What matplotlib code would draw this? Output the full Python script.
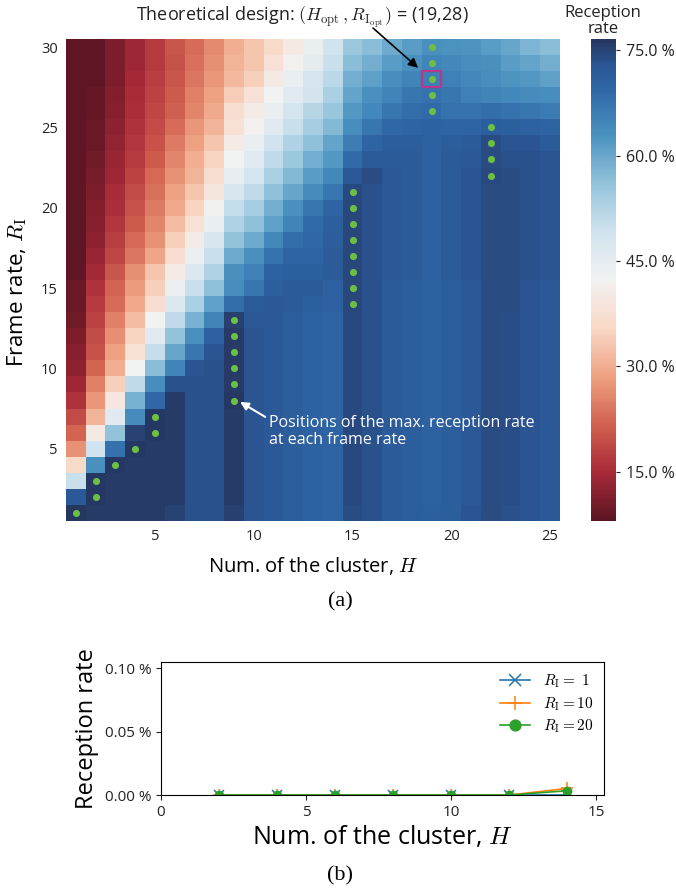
import numpy as np
import matplotlib
matplotlib.use("Agg")
import matplotlib.pyplot as plt
from matplotlib.patches import Rectangle
from matplotlib.ticker import FuncFormatter
from matplotlib.colors import LinearSegmentedColormap

plt.rcParams['mathtext.fontset'] = 'cm'
plt.rcParams['font.family'] = ['Open Sans', 'DejaVu Sans']

# ---------------- data (a) ----------------
H_values = list(range(1, 26))          # Num. of the cluster
R_values = list(range(1, 31))          # Frame rate

# reception rate [%], rows listed from R=30 (top) down to R=1 (bottom)
rate_top_down = [
 [8.5, 8.5, 11, 14, 17, 20.5, 23, 26, 30, 33, 36, 40, 44, 49, 55, 57, 59.5, 61.5, 63, 62.8, 62.5, 61.5, 60, 58, 57],        # 30
 [8.5, 8.5, 11, 14, 17, 20, 23.5, 26.5, 31, 33, 38, 42, 45, 50, 57, 59, 61.5, 63, 65, 64.5, 63.5, 63, 61.5, 60.5, 59],      # 29
 [8.5, 8.5, 11, 14.5, 17.5, 20.5, 24, 27.5, 31.5, 34.5, 40, 44, 48, 51.5, 59, 61, 63.5, 65, 65.8, 65.5, 64.5, 63.5, 62.5, 62, 61],  # 28
 [8.5, 9, 11.5, 15, 18, 21, 25, 28.5, 34, 38, 42.5, 46, 48.5, 53.5, 60.5, 63, 65, 67, 67.5, 67, 65.5, 65, 64.5, 64, 63.5],  # 27
 [8.5, 9, 12, 15.5, 18.5, 21.5, 25.5, 29.5, 37, 40.5, 44, 48, 52, 55.5, 62, 64.5, 67, 68.5, 69, 67.5, 67.5, 68.5, 67.5, 67, 66.5],  # 26
 [8.5, 9.5, 12.5, 16, 19, 23, 27.5, 31, 38, 42, 46, 50, 54, 57.5, 63.5, 67, 69.5, 70, 70.5, 70, 70, 71.5, 71, 70.5, 70],   # 25
 [8.5, 9.5, 13, 16.5, 20, 24.5, 28.5, 33, 40.5, 44, 49, 53, 56.5, 60.5, 66, 70, 71.5, 71.5, 70.5, 71.5, 72, 74, 73, 73, 72],  # 24
 [8.5, 10, 13.5, 17, 21, 25.5, 30, 35, 42.5, 46, 51, 55, 59, 62, 69, 72, 72, 72, 70.5, 72, 72.5, 74, 73.5, 73.5, 73],       # 23
 [8.5, 10.5, 14, 18, 22.5, 27, 31, 37, 44.5, 48, 53.5, 57.5, 61.5, 64.5, 72.5, 74, 72.5, 72, 70.5, 72, 73, 74.2, 74, 73.5, 73],  # 22
 [8.5, 11, 15, 19, 23.5, 28.5, 33, 39, 47.5, 51, 56.5, 60, 64, 67, 74.2, 73.5, 72.5, 72, 70.5, 72, 73, 74, 74, 73.5, 73],   # 21
 [8.5, 11.5, 15.5, 20, 24.5, 29.5, 35, 42, 50.5, 54, 59, 63, 67, 70, 74.5, 73.5, 72.5, 72, 70.5, 72, 73, 74, 74, 73.5, 73],  # 20
 [8.5, 12, 16.5, 21, 25.5, 32, 37.5, 44, 53, 56.5, 61, 65, 69, 71, 74.5, 73.5, 72.5, 72, 70.5, 72, 73, 74, 74, 73.5, 73],    # 19
 [8.5, 12.5, 17.5, 22.5, 27, 34.5, 40.5, 47.5, 56, 59.5, 64.5, 68.5, 69.5, 71.5, 74.5, 73.5, 72.5, 72, 70.5, 72, 73, 74, 74, 73.5, 73],  # 18
 [8.5, 13.5, 18.5, 24, 29, 37, 43.5, 50, 59.5, 63, 67.5, 70, 70, 72, 74.5, 73.5, 72.5, 72, 70.5, 72, 73, 74, 74, 73.5, 73],  # 17
 [8.5, 14.5, 20.5, 26.5, 33, 40.5, 47, 53, 63, 65.5, 70.5, 71, 71, 72, 74.5, 73.5, 72.5, 72, 70.5, 72, 73, 74, 74, 73.5, 73],  # 16
 [9.5, 16, 22, 28, 34.5, 43.5, 50, 56.5, 63.5, 67, 71, 72, 72, 70.5, 74.5, 73.5, 72, 71.5, 70.5, 71.5, 72.5, 74, 74, 73, 72.5],  # 15
 [9.5, 17, 23, 29.5, 37, 47, 53.5, 61, 68.5, 72, 72.5, 72, 71, 70.5, 74.5, 73.5, 72, 71.5, 70.5, 71.5, 72.5, 74, 74, 73, 72.5],  # 14
 [10, 18, 25, 32, 42.5, 51, 58.5, 65, 75.5, 72.5, 72.5, 71.5, 70.5, 70, 74.3, 73.5, 72, 71.5, 70.5, 71.5, 72.5, 74, 73.8, 73, 72.5],  # 13
 [11, 19, 26.5, 35, 46, 56, 63, 70.5, 76, 73, 72.5, 71.5, 70.5, 70, 74.3, 73.5, 72, 71.5, 70.5, 71.5, 72.5, 74, 73.8, 73, 72.5],  # 12
 [12, 20, 28.5, 38, 50.5, 60, 67, 73, 76, 73, 72.5, 71.5, 70.5, 70, 74.3, 73.5, 72, 71.5, 70.5, 71.5, 72.5, 74, 73.8, 73, 72.5],  # 11
 [12.5, 22, 30, 42.5, 57, 65, 73, 73.5, 76, 73, 72.5, 71.5, 70.5, 70, 74.3, 73.5, 72, 71.5, 70.5, 71.5, 72.5, 74, 73.8, 73, 72.5],  # 10
 [14, 25, 34.5, 51, 63.5, 73.5, 73.5, 73.5, 76, 73, 72.5, 71.5, 70.5, 70, 74.3, 73.5, 72, 71.5, 70.5, 71.5, 72.5, 74, 73.8, 73, 72.5],  # 9
 [16, 27.5, 39.5, 58.5, 69.5, 76, 73.5, 73.5, 76.2, 73, 72.5, 71.5, 70.5, 70, 74.3, 73.5, 72, 71.5, 70.5, 71.5, 72.5, 74, 73.8, 73, 72.5],  # 8
 [19, 31, 46, 64, 76.3, 76, 73.5, 73.5, 76, 73, 72.5, 71.5, 70.5, 70, 74.3, 73.5, 72, 71.5, 70.5, 71.5, 72.5, 74, 73.8, 73, 72.5],  # 7
 [22, 40, 56, 75, 76.3, 76, 73.5, 73.5, 76, 73, 72.5, 71.5, 70.5, 70, 74.3, 73.5, 72, 71.5, 70.5, 71.5, 72.5, 74, 73.8, 73, 72.5],  # 6
 [27, 49, 68, 76.3, 76, 76, 73.5, 73.5, 76, 73, 72.5, 71.5, 70.5, 70, 74.3, 73.5, 72, 71.5, 70.5, 71.5, 72.5, 74, 73.8, 73, 72.5],  # 5
 [36, 63, 76.3, 76, 76, 76, 73.5, 73.5, 76, 73, 72.5, 71.5, 70.5, 70, 74.3, 73.5, 72, 71.5, 70.5, 71.5, 72.5, 74, 73.8, 73, 72.5],  # 4
 [50, 76.3, 76, 76, 76, 76, 73.5, 73.5, 76, 73, 72.5, 71.5, 70.5, 70, 74.3, 73.5, 72, 71.5, 70.5, 71.5, 72.5, 74, 73.8, 73, 72.5],  # 3
 [72.5, 76.3, 76, 76, 76, 76, 73.5, 73.5, 76, 73, 72.5, 71.5, 70.5, 70, 74.3, 73.5, 72, 71.5, 70.5, 71.5, 72.5, 74, 73.8, 73, 72.5],  # 2
 [76.5, 76, 76, 76, 76, 75, 73.5, 73.5, 75.5, 73, 72.5, 71.5, 70.5, 70, 74, 73.5, 72, 71.5, 71, 71.5, 73, 74, 73.5, 73, 72.5],  # 1
]

# cluster number with the max. reception rate for each frame rate R=1..30
best_H = [1, 2, 2, 3, 4, 5, 5, 9, 9, 9, 9, 9, 9, 15, 15, 15, 15, 15, 15, 15, 15,
          22, 22, 22, 22, 19, 19, 19, 19, 19]
opt_H, opt_R = 19, 28

cbar_ticks = [15, 30, 45, 60, 75]
vmin, vmax = 8.0, 76.6

# ---------------- data (b) ----------------
H_b = [2, 4, 6, 8, 10, 12, 14]
rate_R1 = [0, 0, 0, 0, 0, 0, 0]
rate_R10 = [0, 0, 0, 0, 0, 0, 0.0052]
rate_R20 = [0, 0, 0, 0, 0, 0, 0.0034]

# muted red-blue palette as seen in the reference
cmap_pos = [0.0, 0.1, 0.2, 0.3, 0.4, 0.5, 0.6, 0.7, 0.8, 0.9, 0.95, 1.0]
cmap_colors = ['#5c1422', '#a82a38', '#d1614f', '#efa282', '#f9d8c6', '#f2f2f2',
               '#d0e3ee', '#94c4dc', '#4a92c0', '#2e66a6', '#2a5592', '#25365f']
cmap = LinearSegmentedColormap.from_list('muted_rdbu', list(zip(cmap_pos, cmap_colors)), N=256)

# ---------------- figure ----------------
fig = plt.figure(figsize=(6.76, 8.9), dpi=100)

ax = fig.add_axes([0.0976, 0.4146, 0.7308, 0.5416])
Z = np.array(rate_top_down[::-1])
xe = np.arange(len(H_values) + 1) + 0.5
ye = np.arange(len(R_values) + 1) + 0.5
mesh = ax.pcolormesh(xe, ye, Z, cmap=cmap, vmin=vmin, vmax=vmax)
ax.set_xlim(0.5, 25.5)
ax.set_ylim(0.5, 30.5)
for s in ax.spines.values():
    s.set_visible(False)
ax.set_xticks([5, 10, 15, 20, 25])
ax.set_yticks([5, 10, 15, 20, 25, 30])
ax.tick_params(length=0, labelsize=10.5, colors='#222222', pad=6)
ax.set_xlabel("Num. of the cluster, $H$", fontsize=14.5, labelpad=8)
ax.set_ylabel("Frame rate, $R_\\mathrm{I}$", fontsize=16)
ax.yaxis.set_label_coords(-0.075, 0.475)

ax.scatter(best_H, R_values, s=26, color='#6dbf43', zorder=3, linewidths=0)
ax.add_patch(Rectangle((opt_H - 0.5, opt_R - 0.5), 1, 1, fill=False,
                       edgecolor='#b5388a', lw=1.6, zorder=4))

ax.text(12.47, 31.87, "Theoretical design: $(H_\\mathrm{opt}\\,,R_{\\mathrm{I}_\\mathrm{opt}})$ = (19,28)",
        ha='center', va='center', fontsize=13, color='#222222', clip_on=False)
ax.annotate("", xy=(18.32, 28.7), xytext=(16.04, 31.18),
            arrowprops=dict(arrowstyle='-|>', color='black', lw=1.2,
                            mutation_scale=14, shrinkA=0, shrinkB=0),
            annotation_clip=False)

ax.text(10.78, 7.08, "Positions of the max. reception rate\nat each frame rate",
        ha='left', va='top', fontsize=11.5, color='white', linespacing=1.05)
ax.annotate("", xy=(9.31, 7.91), xytext=(10.58, 6.98),
            arrowprops=dict(arrowstyle='-|>', color='white', lw=1.5,
                            mutation_scale=12, shrinkA=0, shrinkB=0))

cax = fig.add_axes([0.874, 0.4146, 0.037, 0.5416])
cb = fig.colorbar(mesh, cax=cax, ticks=cbar_ticks,
                  format=FuncFormatter(lambda v, p: f"{v:.1f} %"))
cb.outline.set_visible(False)
cax.tick_params(labelsize=11.5, length=3, width=0.8, colors='#222222', pad=4)
fig.text(0.892, 0.994, "Reception\nrate", ha='center', va='top', fontsize=12,
         color='#222222', linespacing=1.0)

fig.text(0.503, 0.3236, "(a)", ha='center', va='center', fontsize=16,
         family='Liberation Serif')

# ---------------- (b) ----------------
ax2 = fig.add_axes([0.238, 0.1067, 0.655, 0.1494])
ax2.plot(H_b, rate_R1, marker='x', color='#1f77b4', lw=1.2, ms=7, mew=1.1,
         label="$R_\\mathrm{I} =\\ 1$")
ax2.plot(H_b, rate_R10, marker='+', color='#ff7f0e', lw=1.2, ms=8, mew=1.1,
         label="$R_\\mathrm{I} = 10$")
ax2.plot(H_b, rate_R20, marker='o', color='#2ca02c', lw=1.2, ms=6,
         label="$R_\\mathrm{I} = 20$")
ax2.set_xlim(0, 15.25)
ax2.set_ylim(0, 0.1047)
ax2.set_xticks([0, 5, 10, 15])
ax2.set_yticks([0, 0.05, 0.10])
ax2.yaxis.set_major_formatter(FuncFormatter(lambda v, p: f"{v:.2f} %"))
ax2.tick_params(labelsize=11, colors='#222222')
ax2.set_xlabel("Num. of the cluster, $H$", fontsize=18, labelpad=3)
ax2.set_ylabel("Reception rate", fontsize=17, labelpad=4)
ax2.legend(loc='upper right', frameon=False, fontsize=11, handlelength=2.0,
           labelspacing=0.3, borderaxespad=0.3, markerscale=1.3)

fig.text(0.503, 0.0157, "(b)", ha='center', va='center', fontsize=16,
         family='Liberation Serif')

fig.savefig("out.png", dpi=100)
